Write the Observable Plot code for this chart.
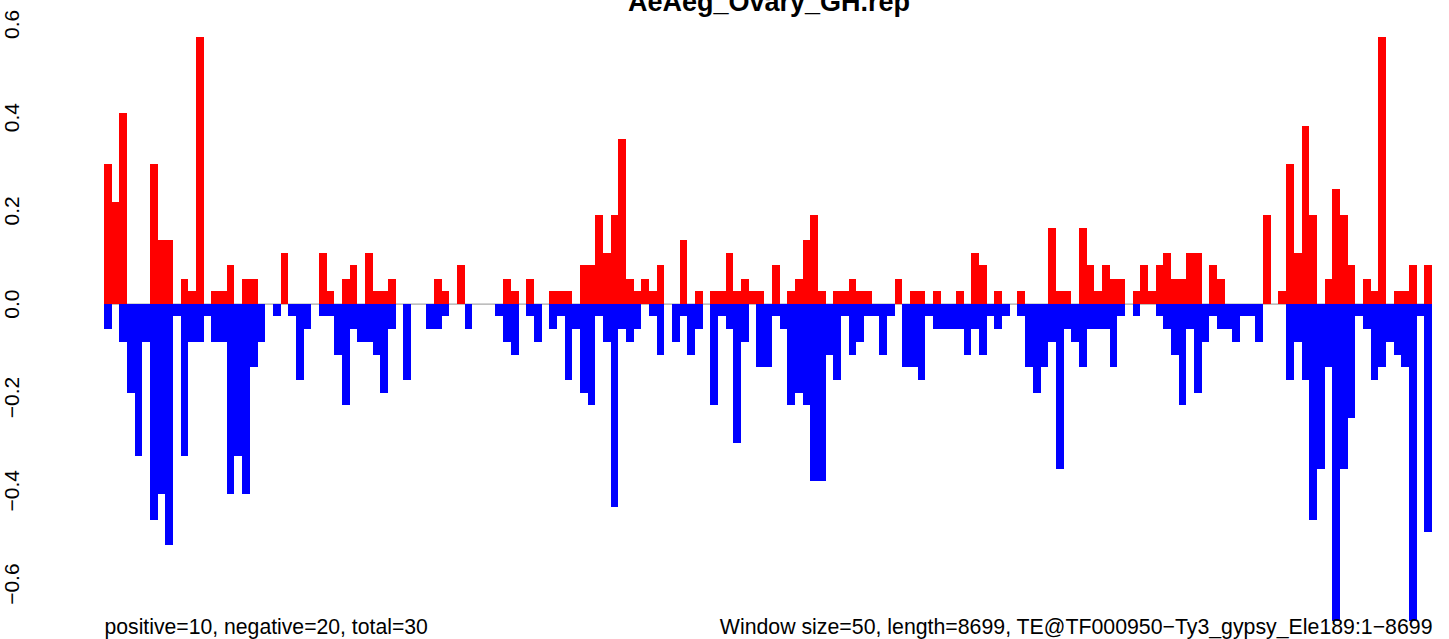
<!DOCTYPE html>
<html>
<head>
<meta charset="utf-8">
<script src="https://cdn.jsdelivr.net/npm/d3@7"></script>
<script src="https://cdn.jsdelivr.net/npm/@observablehq/plot@0.6"></script>
<style>
  html, body { margin: 0; padding: 0; background: #fff; }
  #chart svg { display: block; font-family: "Liberation Sans", Arial, Helvetica, sans-serif; }
</style>
</head>
<body>
<div id="chart"></div>
<script>
const title = "AeAeg_Ovary_GH.rep";
const captionLeft = "positive=10, negative=20, total=30";
const captionRight = "Window size=50, length=8699, TE@TF000950\u2212Ty3_gypsy_Ele189:1\u22128699";
const windowSize = 50;

const yTicks = [-0.6, -0.4, -0.2, 0, 0.2, 0.4, 0.6];
const yTickLabels = ["\u22120.6", "\u22120.4", "\u22120.2", "0.0", "0.2", "0.4", "0.6"];

// sense (positive) signal per window
const positive = [
 0.299,0.218,0.408,0,0,0,0.299,0.136,0.136,0,
 0.054,0.027,0.572,0,0.027,0.027,0.082,0,0.054,0.054,
 0,0,0,0.109,0,0,0,0,0.109,0.027,
 0,0.054,0.082,0,0.109,0.027,0.027,0.054,0,0,
 0,0,0,0.054,0.027,0,0.082,0,0,0,
 0,0,0.054,0.027,0,0.054,0,0,0.027,0.027,
 0.027,0,0.082,0.082,0.191,0.109,0.191,0.354,0.054,0.027,
 0.054,0.027,0.082,0,0,0.136,0,0.027,0,0.027,
 0.027,0.109,0.027,0.054,0.027,0.027,0,0.082,0,0.027,
 0.054,0.136,0.191,0.027,0,0.027,0.027,0.054,0.027,0.027,
 0,0,0,0.054,0,0.027,0.027,0,0.027,0,
 0,0.027,0,0.109,0.082,0,0.027,0,0,0.027,
 0,0,0,0.163,0.027,0.027,0,0.163,0.082,0.027,
 0.082,0.054,0.054,0,0.027,0.082,0.027,0.082,0.109,0.054,
 0.054,0.109,0.109,0,0.082,0.054,0,0,0,0,
 0,0.191,0,0.027,0.299,0.109,0.381,0.191,0,0.054,
 0.245,0.191,0.082,0,0.054,0.027,0.572,0,0.027,0.027,
 0.082,0,0.082
];

// antisense (negative) signal per window
const negative = [
 -0.054,0,-0.082,-0.191,-0.327,-0.082,-0.463,-0.408,-0.517,-0.027,
 -0.327,-0.082,-0.082,-0.027,-0.082,-0.082,-0.408,-0.327,-0.408,-0.136,
 -0.082,0,-0.027,0,-0.027,-0.163,-0.054,0,-0.027,-0.027,
 -0.109,-0.218,-0.054,-0.082,-0.082,-0.109,-0.191,-0.054,0,-0.163,
 0,0,-0.054,-0.054,-0.027,0,0,-0.054,0,0,
 0,-0.027,-0.082,-0.109,0,-0.027,-0.082,0,-0.054,-0.027,
 -0.163,-0.054,-0.191,-0.218,-0.027,-0.082,-0.436,-0.054,-0.082,-0.054,
 0,-0.027,-0.109,0,-0.082,-0.027,-0.109,-0.054,0,-0.218,
 -0.027,-0.054,-0.299,-0.082,0,-0.136,-0.136,-0.027,-0.054,-0.218,
 -0.191,-0.218,-0.381,-0.381,-0.109,-0.163,-0.027,-0.109,-0.082,-0.027,
 -0.027,-0.109,-0.027,0,-0.136,-0.136,-0.163,-0.027,-0.054,-0.054,
 -0.054,-0.054,-0.109,-0.054,-0.109,-0.027,-0.054,-0.027,0,-0.027,
 -0.136,-0.191,-0.136,-0.082,-0.354,-0.054,-0.082,-0.136,-0.054,-0.054,
 -0.054,-0.136,-0.027,0,-0.027,0,0,-0.027,-0.054,-0.109,
 -0.218,-0.054,-0.191,-0.082,-0.027,-0.054,-0.054,-0.082,-0.027,-0.027,
 -0.082,0,0,0,-0.163,-0.082,-0.163,-0.463,-0.354,-0.136,
 -0.68,-0.354,-0.245,-0.027,-0.054,-0.163,-0.136,-0.082,-0.109,-0.136,
 -0.68,-0.027,-0.49
];

const n = positive.length;
const table = positive.map((p, i) => ({
  start: i * windowSize,
  end: (i + 1) * windowSize,
  pos: p,
  neg: negative[i]
}));

const chart = Plot.plot({
  width: 1449,
  height: 639,
  marginTop: 0, marginRight: 0, marginBottom: 0, marginLeft: 0,
  style: { background: "#fff", fontFamily: "Liberation Sans, Arial, sans-serif" },
  x: { domain: [0, n * windowSize], range: [104, 1432], axis: null },
  y: { domain: [-0.6, 0.6], range: [583.6, 23.8], axis: null },
  marks: [
    Plot.ruleY([0], { x1: 0, x2: n * windowSize, stroke: "#a8a8a8", strokeWidth: 1.2 }),
    Plot.rect(table, { x1: "start", x2: "end", y1: 0, y2: "pos", fill: "#ff0000", shapeRendering: "crispEdges" }),
    Plot.rect(table, { x1: "start", x2: "end", y1: 0, y2: "neg", fill: "#0000ff", shapeRendering: "crispEdges" }),
    Plot.text(yTicks, { y: d => d, text: (d, i) => yTickLabels[i], frameAnchor: "left", textAnchor: "middle", dx: 12, dy: 0, rotate: -90, fontSize: 21, fill: "#000" }),
    Plot.text([title], { frameAnchor: "top", dx: 44, dy: -8.5, text: d => d, fontSize: 27, fontWeight: "bold", fill: "#000" }),
    Plot.text([captionLeft], { frameAnchor: "bottom-left", dx: 104, dy: -5.5, textAnchor: "start", text: d => d, fontSize: 21.2, fill: "#000" }),
    Plot.text([captionRight], { frameAnchor: "bottom-right", dx: -17, dy: -5.5, textAnchor: "end", text: d => d, fontSize: 21.3, fill: "#000" })
  ]
});
document.getElementById("chart").appendChild(chart);
</script>
</body>
</html>
